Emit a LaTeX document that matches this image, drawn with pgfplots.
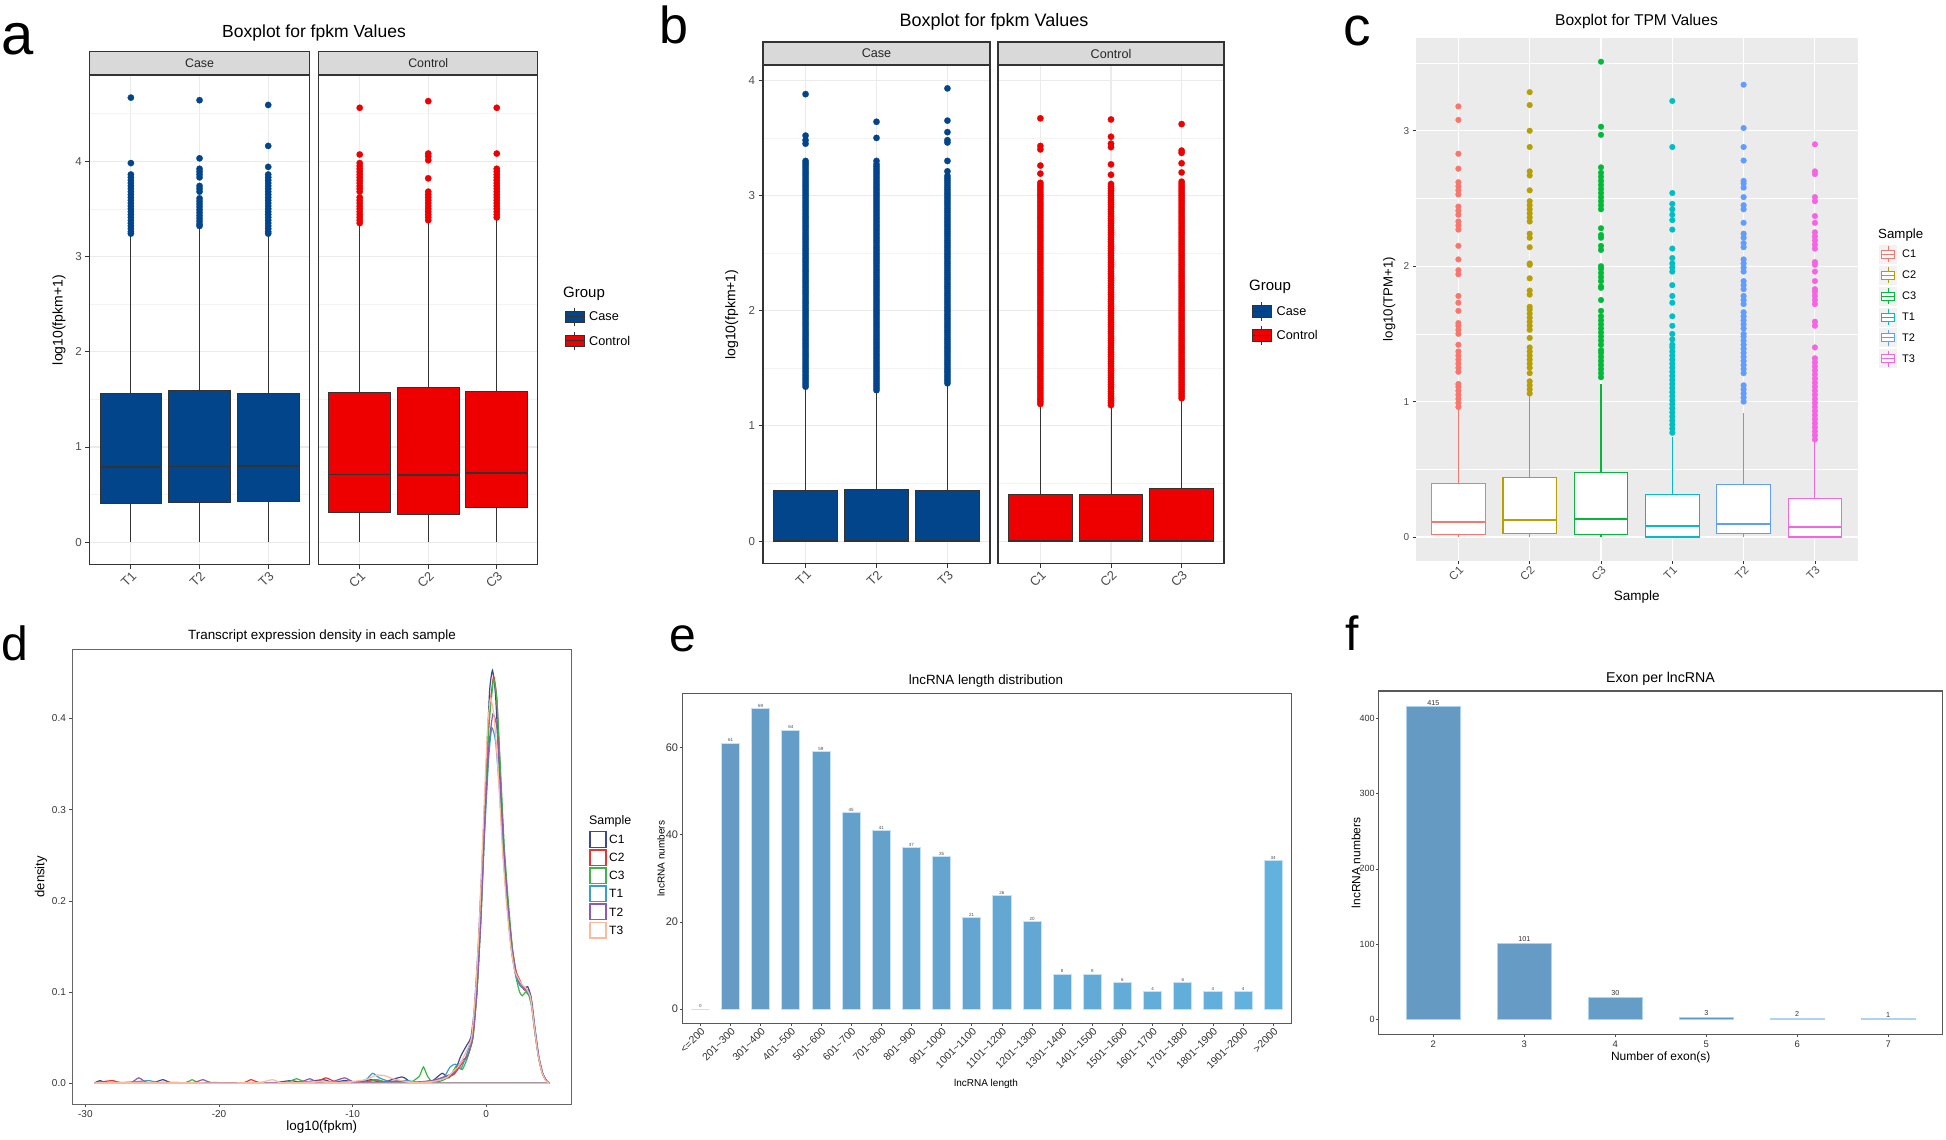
\documentclass[border=0pt]{standalone}
\usepackage{fontspec}
\setmainfont{Liberation Sans}
\usepackage{pgfplots}
\pgfplotsset{compat=1.18}
\usepgfplotslibrary{statistics}

\definecolor{caseblue}{RGB}{3,69,139}
\definecolor{ctrlred}{RGB}{238,0,0}
\definecolor{stripgray}{RGB}{217,217,217}
\definecolor{bdr}{RGB}{51,51,51}
\definecolor{grid92}{RGB}{235,235,235}
\definecolor{gridmin}{RGB}{243,243,243}
\definecolor{txt30}{RGB}{77,77,77}
\definecolor{ggbg}{RGB}{235,235,235}
\definecolor{keybg}{RGB}{242,242,242}
\definecolor{ggC1}{HTML}{F8766D}
\definecolor{ggC2}{HTML}{B79F00}
\definecolor{ggC3}{HTML}{00BA38}
\definecolor{ggT1}{HTML}{00BFC4}
\definecolor{ggT2}{HTML}{619CFF}
\definecolor{ggT3}{HTML}{F564E3}
\definecolor{dC1}{RGB}{59,73,146}
\definecolor{dC2}{RGB}{238,50,50}
\definecolor{dC3}{RGB}{60,180,70}
\definecolor{dT1}{RGB}{55,160,200}
\definecolor{dT2}{RGB}{145,90,175}
\definecolor{dT3}{RGB}{253,185,155}
\definecolor{barline}{RGB}{200,226,245}
\definecolor{fbarline}{RGB}{175,210,238}
\definecolor{e1}{RGB}{101,154,195}
\definecolor{e2}{RGB}{101,155,197}
\definecolor{e3}{RGB}{101,157,198}
\definecolor{e4}{RGB}{100,158,200}
\definecolor{e5}{RGB}{100,159,201}
\definecolor{e6}{RGB}{100,160,203}
\definecolor{e7}{RGB}{100,162,204}
\definecolor{e8}{RGB}{100,163,206}
\definecolor{e9}{RGB}{100,164,207}
\definecolor{e10}{RGB}{100,165,209}
\definecolor{e11}{RGB}{99,167,210}
\definecolor{e12}{RGB}{99,168,212}
\definecolor{e13}{RGB}{99,169,213}
\definecolor{e14}{RGB}{99,170,215}
\definecolor{e15}{RGB}{99,172,216}
\definecolor{e16}{RGB}{99,173,218}
\definecolor{e17}{RGB}{98,174,219}
\definecolor{e18}{RGB}{98,175,221}
\definecolor{e19}{RGB}{98,177,222}
\definecolor{e20}{RGB}{98,178,224}
\definecolor{f1}{RGB}{101,154,195}
\definecolor{f2}{RGB}{101,155,196}
\definecolor{f3}{RGB}{100,157,198}
\definecolor{f4}{RGB}{90,152,202}
\definecolor{f5}{RGB}{99,170,214}
\definecolor{f6}{RGB}{98,175,220}

\newcommand{\fs}[1]{\fontsize{#1}{#1}\selectfont}

\pgfplotsset{
  /pgf/number format/assume math mode=true,
  facet/.style={
    scale only axis, anchor=north west,
    xmin=0.4, xmax=3.6, xtick={1,2,3},
    axis line style={bdr, line width=1.1pt},
    xmajorgrids, ymajorgrids, yminorgrids,
    major grid style={grid92, line width=1.1pt},
    minor grid style={gridmin, line width=0.6pt},
    tick align=outside, major tick length=4.5pt, minor tick length=0pt,
    tick style={bdr, line width=0.9pt},
    tick pos=left,
    xticklabel style={rotate=45, anchor=north east, font=\fs{13}, text=txt30, inner sep=1pt},
    yticklabel style={font=\fs{11.5}, text=txt30},
    ytick={0,1,2,3,4}, minor ytick={0.5,1.5,2.5,3.5,4.5},
    boxplot/draw direction=y,
    ylabel style={font=\fs{14}, anchor=center},
  },
  facetR/.style={facet, yticklabels={}, ytick style={draw=none}},
  bxab/.style 2 args={boxplot prepared={#1}, fill=#2, draw=bdr, line width=0.9pt,
    mark=*, mark size=3.2pt, mark options={fill=#2, draw=#2, line width=0.2pt},
    boxplot/every median/.style={draw=bdr, line width=1.8pt}},
  bxc/.style 2 args={boxplot prepared={#1}, fill=white, draw=#2, line width=1.1pt,
    mark=*, mark size=2.9pt, mark options={fill=#2, draw=#2, line width=0.2pt},
    boxplot/every median/.style={draw=#2, line width=2pt}},
  eb/.style={ybar, bar width=0.6, bar shift=0pt, fill=#1, draw=barline, line width=0.8pt,
    nodes near coords, nodes near coords style={font=\fs{4.5}, text=black!70, inner sep=0.8pt}},
  fb/.style={ybar, bar width=0.6, bar shift=0pt, fill=#1, draw=fbarline, line width=0.8pt,
    nodes near coords, nodes near coords style={font=\fs{7.2}, text=black!80, inner sep=1pt}},
  dl/.style={#1, line width=1.2pt, smooth, tension=0.3},
}

\begin{document}
\begin{tikzpicture}
\useasboundingbox (0pt,0pt) rectangle (1946pt,-1140pt);

%% ---------------- panel a ----------------
\begin{axis}[facet, name=a1, at={(89.7pt,-75.8pt)}, width=219.7pt, height=488.7pt,
  ymin=-0.233, ymax=4.896, xticklabels={T1,T2,T3},
  ylabel={log10(fpkm+1)}, ylabel style={at={(axis description cs:-0.14,0.5)}}]
\addplot[bxab={draw position=1,lower whisker=0,lower quartile=0.405,median=0.787,upper quartile=1.566,upper whisker=3.22,box extend=0.9,whisker extend=0}{caseblue}]
 table[row sep=\\,y index=0]{v\\4.667\\3.98\\3.86\\3.83\\3.80\\3.77\\3.74\\3.71\\3.68\\3.65\\3.62\\3.59\\3.56\\3.53\\3.50\\3.47\\3.44\\3.41\\3.38\\3.35\\3.32\\3.29\\3.26\\3.24\\};
\addplot[bxab={draw position=2,lower whisker=0,lower quartile=0.418,median=0.795,upper quartile=1.594,upper whisker=3.30,box extend=0.9,whisker extend=0}{caseblue}]
 table[row sep=\\,y index=0]{v\\4.64\\4.03\\3.92\\3.89\\3.86\\3.83\\3.74\\3.71\\3.68\\3.61\\3.58\\3.55\\3.52\\3.49\\3.46\\3.43\\3.40\\3.37\\3.34\\3.32\\};
\addplot[bxab={draw position=3,lower whisker=0,lower quartile=0.434,median=0.803,upper quartile=1.562,upper whisker=3.22,box extend=0.9,whisker extend=0}{caseblue}]
 table[row sep=\\,y index=0]{v\\4.59\\4.16\\3.94\\3.86\\3.83\\3.80\\3.77\\3.74\\3.71\\3.68\\3.65\\3.62\\3.59\\3.56\\3.53\\3.50\\3.47\\3.44\\3.41\\3.38\\3.35\\3.32\\3.29\\3.26\\3.24\\};
\end{axis}
\begin{axis}[facetR, name=a2, at={(318.6pt,-75.8pt)}, width=219.3pt, height=488.7pt,
  ymin=-0.233, ymax=4.896, xticklabels={C1,C2,C3}]
\addplot[bxab={draw position=1,lower whisker=0,lower quartile=0.317,median=0.711,upper quartile=1.574,upper whisker=3.33,box extend=0.9,whisker extend=0}{ctrlred}]
 table[row sep=\\,y index=0]{v\\4.56\\4.07\\3.98\\3.95\\3.92\\3.89\\3.86\\3.83\\3.80\\3.77\\3.74\\3.71\\3.68\\3.62\\3.59\\3.56\\3.53\\3.50\\3.47\\3.44\\3.41\\3.38\\3.35\\};
\addplot[bxab={draw position=2,lower whisker=0,lower quartile=0.297,median=0.707,upper quartile=1.627,upper whisker=3.36,box extend=0.9,whisker extend=0}{ctrlred}]
 table[row sep=\\,y index=0]{v\\4.63\\4.08\\4.05\\4.01\\3.82\\3.68\\3.65\\3.62\\3.59\\3.56\\3.53\\3.50\\3.47\\3.44\\3.41\\3.38\\};
\addplot[bxab={draw position=3,lower whisker=0,lower quartile=0.361,median=0.731,upper quartile=1.586,upper whisker=3.38,box extend=0.9,whisker extend=0}{ctrlred}]
 table[row sep=\\,y index=0]{v\\4.56\\4.08\\3.92\\3.89\\3.86\\3.83\\3.80\\3.77\\3.74\\3.71\\3.68\\3.65\\3.62\\3.59\\3.56\\3.53\\3.50\\3.47\\3.44\\3.41\\};
\end{axis}
\draw[bdr, line width=1.1pt, fill=stripgray] ([yshift=1.2pt]a1.north west) rectangle ([yshift=24pt]a1.north east);
\draw[bdr, line width=1.1pt, fill=stripgray] ([yshift=1.2pt]a2.north west) rectangle ([yshift=24pt]a2.north east);
\node[font=\fs{12.4}, text=black!85] at ([yshift=12.6pt]a1.north) {Case};
\node[font=\fs{12.4}, text=black!85] at ([yshift=12.6pt]a2.north) {Control};
\node[font=\fs{17.5}, inner sep=0] at (314pt,-32.5pt) {Boxplot for fpkm Values};
\node[font=\fs{15}, anchor=west, inner sep=0] at (563pt,-293.5pt) {Group};
\draw[bdr, line width=0.9pt, fill=caseblue] (565pt,-311pt) rectangle (584pt,-322pt);
\draw[bdr, line width=0.9pt] (565pt,-316.5pt) -- (584pt,-316.5pt) (574.5pt,-307.5pt) -- (574.5pt,-311pt) (574.5pt,-322pt) -- (574.5pt,-325.5pt);
\draw[bdr, line width=0.9pt, fill=ctrlred] (565pt,-335pt) rectangle (584pt,-346pt);
\draw[bdr, line width=0.9pt] (565pt,-340.5pt) -- (584pt,-340.5pt) (574.5pt,-331.5pt) -- (574.5pt,-335pt) (574.5pt,-346pt) -- (574.5pt,-349.5pt);
\node[font=\fs{12.7}, anchor=west, inner sep=0] at (589pt,-316.5pt) {Case};
\node[font=\fs{12.7}, anchor=west, inner sep=0] at (589pt,-340.5pt) {Control};
\node[font=\fs{58}, anchor=base west, inner sep=0] at (1pt,-55pt) {a};

%% ---------------- panel b ----------------
\begin{axis}[facet, name=b1, at={(763pt,-65.8pt)}, width=227pt, height=497.5pt,
  ymin=-0.193, ymax=4.126, xticklabels={T1,T2,T3},
  ylabel={log10(fpkm+1)}, ylabel style={at={(axis description cs:-0.138,0.5)}}]
\addplot[bxab={draw position=1,lower whisker=0,lower quartile=0,median=0,upper quartile=0.439,upper whisker=1.32,box extend=0.9,whisker extend=0}{caseblue}]
 table[row sep=\\,y index=0]{v\\1.34\\1.38\\1.42\\1.46\\1.50\\1.54\\1.58\\1.62\\1.66\\1.70\\1.74\\1.78\\1.82\\1.86\\1.90\\1.94\\1.98\\2.02\\2.06\\2.10\\2.14\\2.18\\2.22\\2.26\\2.30\\2.34\\2.38\\2.42\\2.46\\2.50\\2.54\\2.58\\2.62\\2.66\\2.70\\2.74\\2.78\\2.82\\2.86\\2.90\\2.94\\2.98\\3.02\\3.06\\3.10\\3.14\\3.18\\3.22\\3.26\\3.30\\3.45\\3.48\\3.52\\3.88\\
1.36\\1.40\\1.44\\1.48\\1.52\\1.56\\1.60\\1.64\\1.68\\1.72\\1.76\\1.80\\1.84\\1.88\\1.92\\1.96\\2.00\\2.04\\2.08\\2.12\\2.16\\2.20\\2.24\\2.28\\2.32\\2.36\\2.40\\2.44\\2.48\\2.52\\2.56\\2.60\\2.64\\2.68\\2.72\\2.76\\2.80\\2.84\\2.88\\2.92\\2.96\\3.00\\3.04\\3.08\\3.12\\3.16\\3.20\\3.24\\3.28\\};
\addplot[bxab={draw position=2,lower whisker=0,lower quartile=0,median=0,upper quartile=0.452,upper whisker=1.29,box extend=0.9,whisker extend=0}{caseblue}]
 table[row sep=\\,y index=0]{v\\1.31\\1.35\\1.39\\1.43\\1.47\\1.51\\1.55\\1.59\\1.63\\1.67\\1.71\\1.75\\1.79\\1.83\\1.87\\1.91\\1.95\\1.99\\2.03\\2.07\\2.11\\2.15\\2.19\\2.23\\2.27\\2.31\\2.35\\2.39\\2.43\\2.47\\2.51\\2.55\\2.59\\2.63\\2.67\\2.71\\2.75\\2.79\\2.83\\2.87\\2.91\\2.95\\2.99\\3.03\\3.07\\3.11\\3.15\\3.19\\3.23\\3.27\\3.30\\3.50\\3.64\\
1.33\\1.37\\1.41\\1.45\\1.49\\1.53\\1.57\\1.61\\1.65\\1.69\\1.73\\1.77\\1.81\\1.85\\1.89\\1.93\\1.97\\2.01\\2.05\\2.09\\2.13\\2.17\\2.21\\2.25\\2.29\\2.33\\2.37\\2.41\\2.45\\2.49\\2.53\\2.57\\2.61\\2.65\\2.69\\2.73\\2.77\\2.81\\2.85\\2.89\\2.93\\2.97\\3.01\\3.05\\3.09\\3.13\\3.17\\3.21\\3.25\\};
\addplot[bxab={draw position=3,lower whisker=0,lower quartile=0,median=0,upper quartile=0.439,upper whisker=1.35,box extend=0.9,whisker extend=0}{caseblue}]
 table[row sep=\\,y index=0]{v\\1.37\\1.41\\1.45\\1.49\\1.53\\1.57\\1.61\\1.65\\1.69\\1.73\\1.77\\1.81\\1.85\\1.89\\1.93\\1.97\\2.01\\2.05\\2.09\\2.13\\2.17\\2.21\\2.25\\2.29\\2.33\\2.37\\2.41\\2.45\\2.49\\2.53\\2.57\\2.61\\2.65\\2.69\\2.73\\2.77\\2.81\\2.85\\2.89\\2.93\\2.97\\3.01\\3.05\\3.09\\3.13\\3.17\\3.21\\3.30\\3.46\\3.48\\3.55\\3.65\\3.93\\
1.39\\1.43\\1.47\\1.51\\1.55\\1.59\\1.63\\1.67\\1.71\\1.75\\1.79\\1.83\\1.87\\1.91\\1.95\\1.99\\2.03\\2.07\\2.11\\2.15\\2.19\\2.23\\2.27\\2.31\\2.35\\2.39\\2.43\\2.47\\2.51\\2.55\\2.59\\2.63\\2.67\\2.71\\2.75\\2.79\\2.83\\2.87\\2.91\\2.95\\2.99\\3.03\\3.07\\3.11\\3.15\\};
\end{axis}
\begin{axis}[facetR, name=b2, at={(998pt,-65.8pt)}, width=226pt, height=497.5pt,
  ymin=-0.193, ymax=4.126, xticklabels={C1,C2,C3}]
\addplot[bxab={draw position=1,lower whisker=0,lower quartile=0,median=0,upper quartile=0.405,upper whisker=1.17,box extend=0.9,whisker extend=0}{ctrlred}]
 table[row sep=\\,y index=0]{v\\1.19\\1.23\\1.27\\1.31\\1.35\\1.39\\1.43\\1.47\\1.51\\1.55\\1.59\\1.63\\1.67\\1.71\\1.75\\1.79\\1.83\\1.87\\1.91\\1.95\\1.99\\2.03\\2.07\\2.11\\2.15\\2.19\\2.23\\2.27\\2.31\\2.35\\2.39\\2.43\\2.47\\2.51\\2.55\\2.59\\2.63\\2.67\\2.71\\2.75\\2.79\\2.83\\2.87\\2.91\\2.95\\2.99\\3.03\\3.07\\3.11\\3.19\\3.26\\3.40\\3.43\\3.67\\
1.21\\1.25\\1.29\\1.33\\1.37\\1.41\\1.45\\1.49\\1.53\\1.57\\1.61\\1.65\\1.69\\1.73\\1.77\\1.81\\1.85\\1.89\\1.93\\1.97\\2.01\\2.05\\2.09\\2.13\\2.17\\2.21\\2.25\\2.29\\2.33\\2.37\\2.41\\2.45\\2.49\\2.53\\2.57\\2.61\\2.65\\2.69\\2.73\\2.77\\2.81\\2.85\\2.89\\2.93\\2.97\\3.01\\3.05\\3.09\\};
\addplot[bxab={draw position=2,lower whisker=0,lower quartile=0,median=0,upper quartile=0.402,upper whisker=1.16,box extend=0.9,whisker extend=0}{ctrlred}]
 table[row sep=\\,y index=0]{v\\1.18\\1.22\\1.26\\1.30\\1.34\\1.38\\1.42\\1.46\\1.50\\1.54\\1.58\\1.62\\1.66\\1.70\\1.74\\1.78\\1.82\\1.86\\1.90\\1.94\\1.98\\2.02\\2.06\\2.10\\2.14\\2.18\\2.22\\2.26\\2.30\\2.34\\2.38\\2.42\\2.46\\2.50\\2.54\\2.58\\2.62\\2.66\\2.70\\2.74\\2.78\\2.82\\2.86\\2.90\\2.94\\2.98\\3.02\\3.06\\3.10\\3.18\\3.27\\3.42\\3.45\\3.51\\3.66\\
1.20\\1.24\\1.28\\1.32\\1.36\\1.40\\1.44\\1.48\\1.52\\1.56\\1.60\\1.64\\1.68\\1.72\\1.76\\1.80\\1.84\\1.88\\1.92\\1.96\\2.00\\2.04\\2.08\\2.12\\2.16\\2.20\\2.24\\2.28\\2.32\\2.36\\2.40\\2.44\\2.48\\2.52\\2.56\\2.60\\2.64\\2.68\\2.72\\2.76\\2.80\\2.84\\2.88\\2.92\\2.96\\3.00\\3.04\\3.08\\};
\addplot[bxab={draw position=3,lower whisker=0,lower quartile=0,median=0,upper quartile=0.458,upper whisker=1.22,box extend=0.9,whisker extend=0}{ctrlred}]
 table[row sep=\\,y index=0]{v\\1.24\\1.28\\1.32\\1.36\\1.40\\1.44\\1.48\\1.52\\1.56\\1.60\\1.64\\1.68\\1.72\\1.76\\1.80\\1.84\\1.88\\1.92\\1.96\\2.00\\2.04\\2.08\\2.12\\2.16\\2.20\\2.24\\2.28\\2.32\\2.36\\2.40\\2.44\\2.48\\2.52\\2.56\\2.60\\2.64\\2.68\\2.72\\2.76\\2.80\\2.84\\2.88\\2.92\\2.96\\3.00\\3.04\\3.08\\3.12\\3.20\\3.28\\3.37\\3.39\\3.62\\
1.26\\1.30\\1.34\\1.38\\1.42\\1.46\\1.50\\1.54\\1.58\\1.62\\1.66\\1.70\\1.74\\1.78\\1.82\\1.86\\1.90\\1.94\\1.98\\2.02\\2.06\\2.10\\2.14\\2.18\\2.22\\2.26\\2.30\\2.34\\2.38\\2.42\\2.46\\2.50\\2.54\\2.58\\2.62\\2.66\\2.70\\2.74\\2.78\\2.82\\2.86\\2.90\\2.94\\2.98\\3.02\\3.06\\3.10\\};
\end{axis}
\draw[bdr, line width=1.1pt, fill=stripgray] ([yshift=0.8pt]b1.north west) rectangle ([yshift=23.8pt]b1.north east);
\draw[bdr, line width=1.1pt, fill=stripgray] ([yshift=0.8pt]b2.north west) rectangle ([yshift=23.8pt]b2.north east);
\node[font=\fs{12.6}, text=black!85] at ([yshift=12.3pt]b1.north) {Case};
\node[font=\fs{12.6}, text=black!85] at ([yshift=12.3pt]b2.north) {Control};
\node[font=\fs{18}, inner sep=0] at (994pt,-21.8pt) {Boxplot for fpkm Values};
\node[font=\fs{15}, anchor=west, inner sep=0] at (1249pt,-287pt) {Group};
\draw[bdr, line width=0.9pt, fill=caseblue] (1252pt,-305.5pt) rectangle (1271pt,-317pt);
\draw[bdr, line width=0.9pt] (1252pt,-311.3pt) -- (1271pt,-311.3pt) (1261.5pt,-302pt) -- (1261.5pt,-305.5pt) (1261.5pt,-317pt) -- (1261.5pt,-320.5pt);
\draw[bdr, line width=0.9pt, fill=ctrlred] (1252pt,-329.6pt) rectangle (1271pt,-341.1pt);
\draw[bdr, line width=0.9pt] (1252pt,-335.4pt) -- (1271pt,-335.4pt) (1261.5pt,-326.1pt) -- (1261.5pt,-329.6pt) (1261.5pt,-341.1pt) -- (1261.5pt,-344.6pt);
\node[font=\fs{12.7}, anchor=west, inner sep=0] at (1276.5pt,-311.3pt) {Case};
\node[font=\fs{12.7}, anchor=west, inner sep=0] at (1276.5pt,-335.4pt) {Control};
\node[font=\fs{52}, anchor=base west, inner sep=0] at (659pt,-44pt) {b};

%% ---------------- panel c ----------------
\begin{axis}[scale only axis, anchor=north west, name=c1, at={(1415.6pt,-37.6pt)}, width=442.1pt, height=523.1pt,
  xmin=0.4, xmax=6.6, ymin=-0.175, ymax=3.688,
  xtick={1,2,3,4,5,6}, xticklabels={C1,C2,C3,T1,T2,T3}, ytick={0,1,2,3}, minor ytick={0.5,1.5,2.5,3.5},
  axis background/.style={fill=ggbg}, axis line style={draw=none},
  xmajorgrids, ymajorgrids, yminorgrids,
  major grid style={white, line width=1.1pt}, minor grid style={white, line width=0.55pt},
  tick align=outside, major tick length=3pt, minor tick length=0pt,
  tick style={black!80, line width=0.7pt}, tick pos=left,
  xticklabel style={rotate=45, anchor=north east, font=\fs{11.5}, text=txt30, inner sep=1pt},
  yticklabel style={font=\fs{10}, text=txt30},
  xlabel={Sample}, xlabel style={font=\fs{13.5}, at={(axis description cs:0.5,-0.069)}, anchor=center},
  ylabel={log10(TPM+1)}, ylabel style={font=\fs{13.2}, at={(axis description cs:-0.06,0.5)}, anchor=center},
  boxplot/draw direction=y]
\addplot[bxc={draw position=1,lower whisker=0.0,lower quartile=0.018,median=0.108,upper quartile=0.397,upper whisker=0.943,box extend=0.75,whisker extend=0}{ggC1}]
 table[row sep=\\,y index=0]{v\\0.96\\0.99\\1.02\\1.05\\1.08\\1.11\\1.13\\1.22\\1.25\\1.28\\1.31\\1.34\\1.37\\1.42\\1.50\\1.53\\1.56\\1.58\\1.67\\1.73\\1.78\\1.94\\1.97\\2.05\\2.15\\2.27\\2.30\\2.33\\2.38\\2.41\\2.44\\2.53\\2.56\\2.59\\2.62\\2.72\\2.83\\3.08\\3.18\\};
\addplot[bxc={draw position=2,lower whisker=0.0,lower quartile=0.026,median=0.123,upper quartile=0.438,upper whisker=1.045,box extend=0.75,whisker extend=0}{ggC2}]
 table[row sep=\\,y index=0]{v\\1.06\\1.09\\1.12\\1.15\\1.21\\1.25\\1.28\\1.31\\1.34\\1.37\\1.40\\1.47\\1.53\\1.56\\1.59\\1.62\\1.65\\1.68\\1.70\\1.79\\1.82\\1.91\\2.01\\2.02\\2.14\\2.21\\2.24\\2.33\\2.36\\2.39\\2.42\\2.45\\2.48\\2.56\\2.67\\2.70\\2.88\\3.00\\3.19\\3.285\\};
\addplot[bxc={draw position=3,lower whisker=0.0,lower quartile=0.018,median=0.134,upper quartile=0.476,upper whisker=1.133,box extend=0.75,whisker extend=0}{ggC3}]
 table[row sep=\\,y index=0]{v\\1.18\\1.21\\1.24\\1.27\\1.30\\1.33\\1.36\\1.38\\1.42\\1.45\\1.48\\1.51\\1.54\\1.57\\1.60\\1.63\\1.67\\1.75\\1.84\\1.85\\1.89\\1.92\\1.95\\1.98\\2.00\\2.12\\2.15\\2.21\\2.23\\2.28\\2.42\\2.45\\2.48\\2.51\\2.54\\2.57\\2.60\\2.63\\2.66\\2.69\\2.73\\2.97\\3.03\\3.51\\};
\addplot[bxc={draw position=4,lower whisker=0.0,lower quartile=0.0,median=0.079,upper quartile=0.312,upper whisker=0.739,box extend=0.75,whisker extend=0}{ggT1}]
 table[row sep=\\,y index=0]{v\\0.77\\0.80\\0.83\\0.86\\0.89\\0.92\\0.95\\0.98\\1.01\\1.04\\1.07\\1.10\\1.13\\1.16\\1.19\\1.22\\1.25\\1.28\\1.31\\1.34\\1.37\\1.40\\1.42\\1.46\\1.50\\1.56\\1.63\\1.73\\1.78\\1.86\\1.96\\1.99\\2.02\\2.06\\2.13\\2.27\\2.34\\2.38\\2.42\\2.46\\2.54\\2.88\\3.22\\};
\addplot[bxc={draw position=5,lower whisker=0.0,lower quartile=0.023,median=0.093,upper quartile=0.391,upper whisker=0.914,box extend=0.75,whisker extend=0}{ggT2}]
 table[row sep=\\,y index=0]{v\\1.00\\1.03\\1.06\\1.09\\1.12\\1.21\\1.24\\1.27\\1.30\\1.33\\1.36\\1.39\\1.42\\1.45\\1.48\\1.50\\1.54\\1.57\\1.60\\1.63\\1.66\\1.72\\1.75\\1.78\\1.83\\1.86\\1.89\\1.96\\1.99\\2.02\\2.05\\2.14\\2.17\\2.21\\2.24\\2.32\\2.42\\2.45\\2.51\\2.58\\2.61\\2.63\\2.78\\2.88\\3.02\\3.34\\};
\addplot[bxc={draw position=6,lower whisker=0.0,lower quartile=0.0,median=0.073,upper quartile=0.283,upper whisker=0.71,box extend=0.75,whisker extend=0}{ggT3}]
 table[row sep=\\,y index=0]{v\\0.72\\0.75\\0.78\\0.81\\0.84\\0.87\\0.90\\0.93\\0.96\\0.99\\1.02\\1.05\\1.08\\1.11\\1.14\\1.17\\1.20\\1.23\\1.26\\1.29\\1.32\\1.40\\1.56\\1.59\\1.72\\1.75\\1.78\\1.81\\1.83\\1.89\\1.96\\2.01\\2.03\\2.13\\2.16\\2.19\\2.22\\2.25\\2.32\\2.37\\2.48\\2.51\\2.68\\2.70\\2.90\\};
\end{axis}
\node[font=\fs{15.6}, inner sep=0] at (1636.5pt,-21.7pt) {Boxplot for TPM Values};
\node[font=\fs{13.3}, anchor=west, inner sep=0] at (1878pt,-235pt) {Sample};
\foreach \c/\n/\yy in {ggC1/C1/254,ggC2/C2/275,ggC3/C3/296,ggT1/T1/317,ggT2/T2/337.5,ggT3/T3/358.5}{
  \fill[keybg] (1879pt,-\yy pt+9.5pt) rectangle (1897pt,-\yy pt-9.5pt);
  \draw[\c, line width=1pt, fill=white] (1881.5pt,-\yy pt+4pt) rectangle (1894.5pt,-\yy pt-4pt);
  \draw[\c, line width=1pt] (1881.5pt,-\yy pt) -- (1894.5pt,-\yy pt) (1888pt,-\yy pt+4pt) -- (1888pt,-\yy pt+8pt) (1888pt,-\yy pt-4pt) -- (1888pt,-\yy pt-8pt);
  \node[font=\fs{11}, anchor=west, inner sep=0] at (1902pt,-\yy pt) {\n};
}
\node[font=\fs{55}, anchor=base west, inner sep=0] at (1343pt,-45.5pt) {c};

%% ---------------- panel d ----------------
\begin{axis}[scale only axis, anchor=north west, name=d1, at={(72.4pt,-649.2pt)}, width=498.8pt, height=454.9pt,
  xmin=-30.97, xmax=6.36, ymin=-0.0228, ymax=0.476,
  xtick={-30,-20,-10,0}, ytick={0,0.1,0.2,0.3,0.4},
  yticklabel style={/pgf/number format/.cd, fixed, fixed zerofill, precision=1, /tikz/.cd, font=\fs{10}, text=bdr},
  xticklabel style={font=\fs{10}, text=bdr},
  axis line style={black!60, line width=1.1pt},
  tick align=outside, major tick length=3pt, tick style={black!70, line width=0.7pt}, tick pos=left,
  xlabel={log10(fpkm)}, xlabel style={font=\fs{13.4}, at={(axis description cs:0.5,-0.05)}, anchor=center},
  ylabel={density}, ylabel style={font=\fs{13.1}, at={(axis description cs:-0.063,0.5)}, anchor=center}]
\addplot[dl=dC1] coordinates {(-29.3,0.0005) (-28.9,0.003) (-28.5,0.0008) (-27.5,0.0005) (-26.5,0.001) (-25,0.0005) (-24.2,0.004) (-23.6,0.0008) (-22,0.0005) (-20,0.0005) (-18,0.0005) (-16,0.0005) (-14.6,0.003) (-13.8,0.001) (-12.2,0.004) (-11.5,0.001) (-10.6,0.003) (-9.6,0.001) (-8.6,0.004) (-7.8,0.001) (-6.3,0.007) (-5.6,0.001) (-4.7,0.002) (-4,0.003) (-3.3,0.011) (-2.8,0.006) (-2.3,0.015) (-1.9,0.03) (-1.45,0.042) (-1.15,0.05) (-0.9,0.08) (-0.6,0.15) (-0.3,0.245) (0,0.345) (0.25,0.43) (0.47,0.453) (0.7,0.425) (1.0,0.34) (1.3,0.25) (1.6,0.19) (1.9,0.145) (2.2,0.12) (2.5,0.108) (2.8,0.104) (3.1,0.106) (3.35,0.095) (3.6,0.065) (3.9,0.032) (4.2,0.012) (4.5,0.003) (4.7,0.0005)} \closedcycle;
\addplot[dl=dC2] coordinates {(-29.3,0.0005) (-28,0.003) (-27.4,0.0008) (-26,0.0005) (-24,0.001) (-22,0.0005) (-20,0.0005) (-18.2,0.0005) (-17.6,0.004) (-17,0.001) (-15,0.0005) (-13.6,0.002) (-12.8,0.001) (-12,0.006) (-11.2,0.001) (-10.2,0.002) (-9.2,0.001) (-8.3,0.004) (-7.5,0.001) (-6.5,0.003) (-5.5,0.001) (-4.5,0.002) (-3.6,0.004) (-3,0.006) (-2.4,0.01) (-1.9,0.02) (-1.4,0.03) (-1.0,0.05) (-0.7,0.1) (-0.4,0.19) (-0.1,0.3) (0.2,0.4) (0.55,0.446) (0.8,0.42) (1.05,0.34) (1.35,0.25) (1.65,0.19) (1.95,0.148) (2.25,0.122) (2.55,0.112) (2.8,0.103) (3.1,0.1) (3.35,0.092) (3.6,0.062) (3.9,0.03) (4.2,0.011) (4.5,0.003) (4.7,0.0005)} \closedcycle;
\addplot[dl=dC3] coordinates {(-29.3,0.0005) (-27,0.001) (-24.5,0.0005) (-22.5,0.0008) (-22,0.004) (-21.5,0.0008) (-19,0.0005) (-17,0.0005) (-15,0.0008) (-14.2,0.005) (-13.4,0.001) (-11,0.001) (-10,0.0005) (-9,0.001) (-8.2,0.004) (-7.4,0.001) (-6.6,0.001) (-5.6,0.0015) (-5.0,0.008) (-4.7,0.018) (-4.4,0.008) (-4.0,0.001) (-3.3,0.003) (-2.7,0.008) (-2.2,0.02) (-1.8,0.015) (-1.4,0.028) (-1.0,0.05) (-0.7,0.1) (-0.4,0.18) (-0.1,0.29) (0.2,0.39) (0.55,0.443) (0.8,0.42) (1.05,0.35) (1.35,0.26) (1.65,0.2) (1.95,0.15) (2.25,0.115) (2.5,0.1) (2.7,0.096) (2.95,0.1) (3.2,0.096) (3.45,0.08) (3.7,0.05) (4.0,0.022) (4.3,0.007) (4.6,0.0008)} \closedcycle;
\addplot[dl=dT1] coordinates {(-29.3,0.0005) (-27,0.0008) (-25.2,0.003) (-24.6,0.0008) (-22,0.0005) (-20,0.0005) (-18,0.0005) (-16,0.0005) (-13,0.001) (-12,0.0005) (-10,0.001) (-9,0.004) (-8.5,0.011) (-8,0.006) (-7.2,0.002) (-6,0.003) (-5,0.001) (-4,0.002) (-3.2,0.006) (-2.7,0.018) (-2.3,0.021) (-1.9,0.016) (-1.5,0.03) (-1.0,0.055) (-0.7,0.1) (-0.4,0.18) (-0.1,0.28) (0.2,0.36) (0.42,0.39) (0.7,0.375) (1.0,0.32) (1.3,0.245) (1.6,0.19) (1.9,0.145) (2.2,0.118) (2.5,0.108) (2.8,0.104) (3.1,0.1) (3.35,0.09) (3.6,0.06) (3.9,0.03) (4.2,0.011) (4.5,0.003) (4.7,0.0005)} \closedcycle;
\addplot[dl=dT2] coordinates {(-29.3,0.0005) (-28,0.001) (-26.6,0.0008) (-26,0.006) (-25.4,0.001) (-24,0.0008) (-22,0.0005) (-21.2,0.004) (-20.6,0.001) (-18,0.0005) (-16,0.0005) (-14,0.001) (-13.2,0.005) (-12.6,0.001) (-11.5,0.002) (-10.6,0.006) (-10,0.002) (-9,0.001) (-7.5,0.002) (-6,0.002) (-5,0.001) (-4,0.003) (-3,0.008) (-2.4,0.012) (-1.8,0.025) (-1.4,0.03) (-1.0,0.05) (-0.7,0.1) (-0.4,0.18) (-0.1,0.29) (0.2,0.37) (0.5,0.405) (0.8,0.39) (1.05,0.33) (1.35,0.25) (1.65,0.19) (1.95,0.146) (2.25,0.12) (2.55,0.11) (2.85,0.104) (3.15,0.102) (3.4,0.09) (3.65,0.06) (3.95,0.028) (4.25,0.01) (4.55,0.002) (4.7,0.0005)} \closedcycle;
\addplot[dl=dT3] coordinates {(-29.3,0.0005) (-27,0.0008) (-25,0.001) (-23,0.0008) (-21,0.0005) (-19,0.0005) (-17,0.0008) (-16,0.004) (-15.4,0.001) (-14,0.0008) (-12.5,0.002) (-11,0.001) (-10,0.002) (-9,0.004) (-8.2,0.009) (-7.5,0.008) (-7,0.005) (-6,0.002) (-5,0.001) (-4,0.002) (-3,0.006) (-2.4,0.014) (-2,0.02) (-1.5,0.035) (-1.1,0.05) (-0.8,0.1) (-0.5,0.18) (-0.2,0.29) (0.1,0.39) (0.33,0.4225) (0.6,0.4) (0.9,0.34) (1.2,0.26) (1.5,0.2) (1.8,0.155) (2.1,0.125) (2.4,0.115) (2.7,0.108) (3.0,0.104) (3.3,0.095) (3.55,0.068) (3.85,0.034) (4.15,0.013) (4.45,0.003) (4.7,0.0005)} \closedcycle;
\end{axis}
\node[font=\fs{13.4}, inner sep=0] at (322pt,-635.6pt) {Transcript expression density in each sample};
\node[font=\fs{12.4}, anchor=west, inner sep=0] at (589pt,-821.7pt) {Sample};
\foreach \c/\n/\yy in {dC1/C1/839.5,dC2/C2/857.6,dC3/C3/875.7,dT1/T1/893.8,dT2/T2/911.9,dT3/T3/930}{
  \draw[\c, line width=1.4pt, fill=white] (590pt,-\yy pt+7.8pt) rectangle (606pt,-\yy pt-7.8pt);
  \node[font=\fs{12}, anchor=west, inner sep=0] at (609pt,-\yy pt) {\n};
}
\node[font=\fs{48}, anchor=base west, inner sep=0] at (1pt,-660pt) {d};

%% ---------------- panel e ----------------
\begin{axis}[scale only axis, anchor=north west, name=e1, at={(682.3pt,-693.6pt)}, width=609pt, height=330pt,
  xmin=0.4, xmax=20.6, ymin=-3.35, ymax=72.37,
  xtick={1,...,20}, ytick={0,20,40,60},
  xticklabels={{<=200},{201\textasciitilde 300},{301\textasciitilde 400},{401\textasciitilde 500},{501\textasciitilde 600},{601\textasciitilde 700},{701\textasciitilde 800},{801\textasciitilde 900},{901\textasciitilde 1000},{1001\textasciitilde 1100},{1101\textasciitilde 1200},{1201\textasciitilde 1300},{1301\textasciitilde 1400},{1401\textasciitilde 1500},{1501\textasciitilde 1600},{1601\textasciitilde 1700},{1701\textasciitilde 1800},{1801\textasciitilde 1900},{1901\textasciitilde 2000},{>2000}},
  xticklabel style={rotate=45, anchor=north east, font=\fs{10.5}, text=bdr, inner sep=0.5pt},
  yticklabel style={font=\fs{11}, text=bdr, inner sep=1.5pt},
  axis line style={black!65, line width=1.1pt},
  tick align=outside, major tick length=2.5pt, tick style={black!70, line width=0.6pt}, tick pos=left,
  xlabel={lncRNA length}, xlabel style={font=\fs{10}, at={(axis description cs:0.4987,-0.183)}, anchor=center},
  ylabel={lncRNA numbers}, ylabel style={font=\fs{10}, at={(axis description cs:-0.035,0.5)}, anchor=center}]
\addplot[eb=e1] coordinates {(1,0)};
\addplot[eb=e2] coordinates {(2,61)};
\addplot[eb=e3] coordinates {(3,69)};
\addplot[eb=e4] coordinates {(4,64)};
\addplot[eb=e5] coordinates {(5,59)};
\addplot[eb=e6] coordinates {(6,45)};
\addplot[eb=e7] coordinates {(7,41)};
\addplot[eb=e8] coordinates {(8,37)};
\addplot[eb=e9] coordinates {(9,35)};
\addplot[eb=e10] coordinates {(10,21)};
\addplot[eb=e11] coordinates {(11,26)};
\addplot[eb=e12] coordinates {(12,20)};
\addplot[eb=e13] coordinates {(13,8)};
\addplot[eb=e14] coordinates {(14,8)};
\addplot[eb=e15] coordinates {(15,6)};
\addplot[eb=e16] coordinates {(16,4)};
\addplot[eb=e17] coordinates {(17,6)};
\addplot[eb=e18] coordinates {(18,4)};
\addplot[eb=e19] coordinates {(19,4)};
\addplot[eb=e20] coordinates {(20,34)};
\end{axis}
\node[font=\fs{13.4}, inner sep=0] at (986pt,-680.8pt) {lncRNA length distribution};
\node[font=\fs{48}, anchor=base west, inner sep=0] at (669pt,-651pt) {e};

%% ---------------- panel f ----------------
\begin{axis}[scale only axis, anchor=north west, name=f1, at={(1378.7pt,-691pt)}, width=564.1pt, height=343.5pt,
  xmin=1.4, xmax=7.6, ymin=-19.9, ymax=436,
  xtick={2,...,7}, ytick={0,100,200,300,400},
  xticklabel style={font=\fs{9.5}, text=bdr},
  yticklabel style={font=\fs{9}, text=bdr, inner sep=1.5pt},
  axis line style={black!65, line width=1.1pt},
  tick align=outside, major tick length=2.5pt, tick style={black!70, line width=0.6pt}, tick pos=left,
  xlabel={Number of exon(s)}, xlabel style={font=\fs{12}, at={(axis description cs:0.5,-0.068)}, anchor=center},
  ylabel={lncRNA numbers}, ylabel style={font=\fs{12}, at={(axis description cs:-0.04,0.5)}, anchor=center}]
\addplot[fb=f1] coordinates {(2,415)};
\addplot[fb=f2] coordinates {(3,101)};
\addplot[fb=f3] coordinates {(4,30)};
\addplot[fb=f4] coordinates {(5,3)};
\addplot[fb=f5] coordinates {(6,2)};
\addplot[fb=f6] coordinates {(7,1)};
\end{axis}
\node[font=\fs{14.2}, inner sep=0] at (1660.5pt,-678.9pt) {Exon per lncRNA};
\node[font=\fs{48}, anchor=base west, inner sep=0] at (1345pt,-650pt) {f};
\end{tikzpicture}
\end{document}
